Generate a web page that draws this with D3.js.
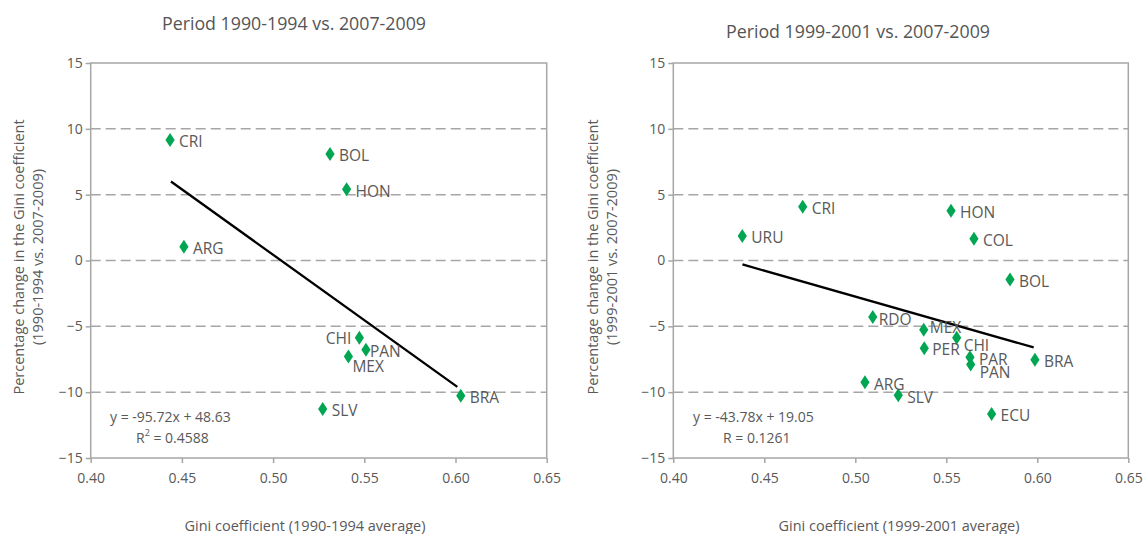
<!DOCTYPE html>
<html><head><meta charset="utf-8">
<script src="https://cdn.jsdelivr.net/npm/d3@7"></script>
<style>
body{margin:0;background:#fff;}
text{font-family:"Open Sans",sans-serif;fill:#595959;}
</style></head>
<body><svg id="c" width="1143" height="534"></svg>
<script>
// ---- data ----
const xTicks = [0.40, 0.45, 0.50, 0.55, 0.60, 0.65];
const yTicks = [-15, -10, -5, 0, 5, 10, 15];

const leftCountries = ["CRI","ARG","BOL","HON","CHI","PAN","MEX","SLV","BRA"];
const leftGini      = [0.4435,0.4511,0.5312,0.5403,0.5473,0.5509,0.5413,0.5272,0.6029];
const leftChange    = [9.16,1.04,8.09,5.41,-5.86,-6.78,-7.29,-11.27,-10.28];
const leftTrendX = [0.444, 0.601];
const leftTrendY = [6.0, -9.6];

const rightCountries = ["CRI","URU","HON","COL","BOL","RDO","MEX","CHI","PER","PAR","PAN","BRA","ARG","SLV","ECU"];
const rightGini      = [0.4711,0.4379,0.5526,0.5652,0.5850,0.5096,0.5376,0.5557,0.5379,0.5630,0.5634,0.5987,0.5053,0.5236,0.5749];
const rightChange    = [4.08,1.87,3.78,1.65,-1.45,-4.30,-5.26,-5.86,-6.66,-7.34,-7.90,-7.54,-9.25,-10.24,-11.65];
const rightTrendX = [0.438, 0.598];
const rightTrendY = [-0.3, -6.6];

// ---- layout ----
const svg = d3.select("#c");
const grey = "#a6a6a6";

function drawChart(o){
  const x = d3.scaleLinear().domain([0.40,0.65]).range([o.x0, o.x1]);
  const y = d3.scaleLinear().domain([-15,15]).range([458, 63]);
  const g = svg.append("g");

  // gridlines
  g.selectAll("line.grid").data(yTicks.filter(t=>t>-15 && t<15)).join("line")
    .attr("x1", o.x0).attr("x2", o.x1).attr("y1", d=>y(d)).attr("y2", d=>y(d))
    .attr("stroke", grey).attr("stroke-width", 1.5).attr("stroke-dasharray","10,5");

  // frame
  g.append("rect").attr("x", o.x0).attr("y", y(15)).attr("width", o.x1-o.x0).attr("height", y(-15)-y(15))
    .attr("fill","none").attr("stroke", grey).attr("stroke-width", 1.5);

  // axes
  const ya = g.append("g").attr("transform",`translate(${o.x0},0)`)
    .call(d3.axisLeft(y).tickValues(yTicks).tickSize(5).tickPadding(3).tickFormat(d3.format("d")));
  const xa = g.append("g").attr("transform",`translate(0,${y(-15)})`)
    .call(d3.axisBottom(x).tickValues(xTicks).tickSize(5).tickPadding(10).tickFormat(d3.format(".2f")));
  [ya, xa].forEach(a=>{
    a.select(".domain").remove();
    a.selectAll(".tick line").attr("stroke", grey).attr("stroke-width",1.5);
    a.selectAll(".tick text").style("font-size","14px").style("fill","#595959").style("font-family","'Open Sans',sans-serif");
  });

  // trend line
  g.append("line")
    .attr("x1", x(o.tx[0])).attr("y1", y(o.ty[0]))
    .attr("x2", x(o.tx[1])).attr("y2", y(o.ty[1]))
    .attr("stroke","#000").attr("stroke-width",2.3);

  // markers
  const pts = o.names.map((n,i)=>({n, gx:o.gx[i], gy:o.gy[i]}));
  const diamond = "M0,-7L4.6,0L0,7L-4.6,0Z";
  g.selectAll("path.pt").data(pts).join("path")
    .attr("d", diamond).attr("fill","#00a651")
    .attr("transform", d=>`translate(${x(d.gx)},${y(d.gy)})`);

  g.selectAll("text.lbl").data(pts).join("text")
    .attr("x", d=>x(d.gx) + ((o.adj[d.n]||{}).dx ?? 9))
    .attr("y", d=>y(d.gy) + ((o.adj[d.n]||{}).dy ?? 1.5))
    .attr("text-anchor", d=>(o.adj[d.n]||{}).anchor || "start")
    .attr("dominant-baseline","central")
    .style("font-size","15.5px")
    .text(d=>d.n);

  // title
  svg.append("text").attr("x", o.titleX).attr("y", o.titleY).attr("text-anchor","middle")
    .attr("dominant-baseline","central").style("font-size","17.8px").style("fill","#555").text(o.title);
  // x title
  svg.append("text").attr("x", o.xtX).attr("y", 525).attr("text-anchor","middle")
    .attr("dominant-baseline","central").style("font-size","14.5px").text(o.xTitle);
  // y title
  const yt = svg.append("text").attr("transform",`translate(${o.ytX},257) rotate(-90)`).attr("text-anchor","middle")
    .style("font-size","14.5px");
  yt.append("tspan").attr("x",0).attr("y",0).attr("dominant-baseline","central").text("Percentage change in the Gini coefficient");
  yt.append("tspan").attr("x",0).attr("y",19).attr("dominant-baseline","central").text(o.yTitle2);

  // equation
  svg.append("text").attr("x", o.eqX).attr("y", 416).attr("dominant-baseline","central")
    .style("font-size","14px").text(o.eq1);
  const r = svg.append("text").attr("x", o.eqX2).attr("y", 437).attr("dominant-baseline","central")
    .style("font-size","14px");
  r.append("tspan").text("R");
  if (o.sup) r.append("tspan").attr("dy",-5).style("font-size","9px").text("2");
  r.append("tspan").attr("dy", o.sup?5:0).text(o.eq2);
}

drawChart({
  x0:90.7, x1:546.7, names:leftCountries, gx:leftGini, gy:leftChange, tx:leftTrendX, ty:leftTrendY,
  adj:{CHI:{dx:-8,dy:0,anchor:"end"}, PAN:{dx:4,dy:1}, MEX:{dx:4,dy:10}},
  title:"Period 1990-1994 vs. 2007-2009", titleX:294, titleY:23,
  xTitle:"Gini coefficient (1990-1994 average)", xtX:305,
  ytX:18, yTitle2:"(1990-1994 vs. 2007-2009)",
  eqX:110, eqX2:136, eq1:"y = -95.72x + 48.63", eq2:" = 0.4588", sup:true
});
drawChart({
  x0:673.3, x1:1128.3, names:rightCountries, gx:rightGini, gy:rightChange, tx:rightTrendX, ty:rightTrendY,
  adj:{RDO:{dx:6,dy:2}, MEX:{dx:6,dy:-3}, CHI:{dx:7,dy:7}, PER:{dx:8,dy:1}, PAR:{dx:9,dy:1.5}, PAN:{dx:9,dy:7.5}},
  title:"Period 1999-2001 vs. 2007-2009", titleX:858, titleY:31,
  xTitle:"Gini coefficient (1999-2001 average)", xtX:899,
  ytX:592, yTitle2:"(1999-2001 vs. 2007-2009)",
  eqX:693, eqX2:723, eq1:"y = -43.78x + 19.05", eq2:" = 0.1261", sup:false
});
</script></body></html>
